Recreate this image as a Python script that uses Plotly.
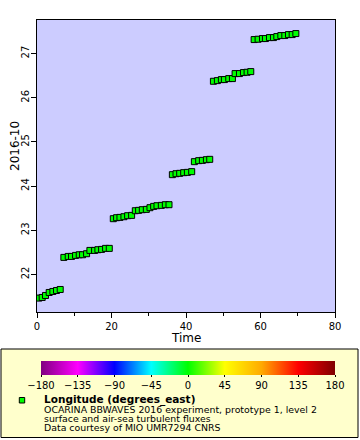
import plotly.graph_objects as go

# ---- data ----
time_x = [0.49, 1.39, 2.28, 3.27, 4.26, 5.24, 6.23,
          7.21, 8.38, 9.27, 10.35, 11.34, 12.23, 13.31, 14.20, 15.46, 16.35, 17.34, 18.41, 19.40,
          20.48, 21.37, 22.27, 23.34, 24.33, 25.40, 26.39, 27.28, 28.27, 29.35, 30.33, 31.32,
          32.21, 33.38, 34.45, 35.44,
          36.34, 37.32, 38.31, 39.38, 40.37, 41.53,
          42.25, 43.41, 44.40, 45.48, 46.37,
          47.36, 48.43, 49.50, 50.31, 51.48, 52.46, 53.18, 54.35, 55.42, 56.40, 57.39,
          58.29, 59.36, 60.53, 61.33, 62.41, 63.48, 64.38, 65.46, 66.53, 67.51, 68.50, 69.49]
day_y = [21.465, 21.479, 21.524, 21.592, 21.615, 21.637, 21.660,
         22.386, 22.408, 22.408, 22.431, 22.446, 22.446, 22.469, 22.544, 22.544, 22.560, 22.567, 22.590, 22.590,
         23.262, 23.285, 23.292, 23.307, 23.330, 23.337, 23.443, 23.451, 23.466, 23.473, 23.511, 23.541,
         23.556, 23.564, 23.579, 23.579,
         24.259, 24.281, 24.289, 24.304, 24.311, 24.327,
         24.553, 24.576, 24.583, 24.598, 24.606,
         26.373, 26.388, 26.411, 26.411, 26.434, 26.434, 26.547, 26.547, 26.570, 26.577, 26.592,
         27.317, 27.325, 27.340, 27.340, 27.362, 27.362, 27.385, 27.408, 27.408, 27.430, 27.430, 27.453]

cbar_ticks = [-180, -135, -90, -45, 0, 45, 90, 135, 180]
cbar_colors = ["#800080", "#ff00ff", "#0000ff", "#00ffff", "#00ff00",
               "#ffff00", "#ffaa00", "#ff0000", "#800000"]
x_ticks = [0, 20, 40, 60, 80]
y_ticks = [22, 23, 24, 25, 26, 27]

legend_title = "Longitude (degrees_east)"
legend_lines = ["OCARINA BBWAVES 2016 experiment, prototype 1, level 2",
                "surface and air-sea turbulent fluxes",
                "Data courtesy of MIO UMR7294 CNRS"]

FONT = "DejaVu Sans"
W, H = 360, 440
L, R, T, B = 37, 25, 20, 128
PW, PH = W - L - R, H - T - B


def px(x):
    return (x - L) / PW


def py(y):
    return (H - B - y) / PH


colorscale = [[(v + 180) / 360, c] for v, c in zip(cbar_ticks, cbar_colors)]

fig = go.Figure()
fig.add_trace(go.Scatter(
    x=time_x, y=day_y, mode="markers",
    marker=dict(symbol="square", size=6, color="#00ff00",
                line=dict(color="black", width=1)),
    showlegend=False, hoverinfo="x+y"))

# colorbar carrier
fig.add_trace(go.Scatter(
    x=[None, None], y=[None, None], mode="markers",
    marker=dict(color=[cbar_ticks[0], cbar_ticks[-1]], colorscale=colorscale,
                cmin=cbar_ticks[0], cmax=cbar_ticks[-1], showscale=True,
                colorbar=dict(orientation="h", lenmode="pixels", len=294,
                              thickness=14, thicknessmode="pixels",
                              x=px(188), xanchor="center",
                              y=py(360.7), yanchor="top",
                              xpad=0, ypad=0, outlinewidth=0,
                              tickvals=cbar_ticks, ticks="outside", ticklen=2,
                              tickcolor="black",
                              tickfont=dict(family=FONT, size=10, color="black"))),
    showlegend=False, hoverinfo="skip"))

shapes = [
    dict(type="rect", xref="paper", yref="paper",
         x0=px(1), x1=px(358), y0=py(349), y1=py(437.5),
         line=dict(color="black", width=1), fillcolor="#ffffcc", layer="below"),
    dict(type="rect", xref="paper", yref="paper",
         x0=px(19.3), x1=px(24.7), y0=py(397.5), y1=py(403),
         line=dict(color="black", width=1), fillcolor="#00ff00"),
]

annotations = [
    dict(text="Time", xref="paper", yref="paper", x=px(186), y=py(338),
         xanchor="center", yanchor="middle", showarrow=False,
         font=dict(family=FONT, size=12, color="black")),
    dict(text="2016-10", xref="paper", yref="paper", x=px(15), y=py(146),
         xanchor="center", yanchor="middle", showarrow=False, textangle=-90,
         font=dict(family=FONT, size=12, color="black")),
    dict(text="<b>" + legend_title + "</b>", xref="paper", yref="paper",
         x=px(42), y=py(400), xanchor="left", yanchor="middle", showarrow=False,
         font=dict(family=FONT, size=10.5, color="black")),
]
for i, line in enumerate(legend_lines):
    annotations.append(dict(text=line, xref="paper", yref="paper",
                            x=px(42), y=py(409.6 + 8.7 * i), xanchor="left",
                            yanchor="middle", showarrow=False,
                            font=dict(family=FONT, size=9.4, color="black")))

fig.update_layout(
    width=W, height=H, margin=dict(l=L, r=R, t=T, b=B, pad=0, autoexpand=False),
    paper_bgcolor="white", plot_bgcolor="#ccccff",
    font=dict(family=FONT, size=10, color="black"),
    shapes=shapes, annotations=annotations, showlegend=False,
    xaxis=dict(range=[0, 80], tickvals=x_ticks, ticks="outside", ticklen=5,
               tickcolor="black", showgrid=False, zeroline=False,
               showline=True, linecolor="black", linewidth=1, mirror=True,
               minor=dict(dtick=10, ticks="outside", ticklen=3, tickcolor="black",
                          showgrid=False),
               tickfont=dict(family=FONT, size=10)),
    yaxis=dict(range=[21.15, 27.76], tickvals=y_ticks, ticks="outside", ticklen=5,
               tickcolor="black", showgrid=False, zeroline=False, tickangle=-90,
               ticklabelstandoff=-2,
               showline=True, linecolor="black", linewidth=1, mirror=True,
               tickfont=dict(family=FONT, size=10)),
)

fig.write_html("out.html", config={"displayModeBar": False},
               post_script="document.body.style.margin='0';document.body.style.overflow='hidden';")
